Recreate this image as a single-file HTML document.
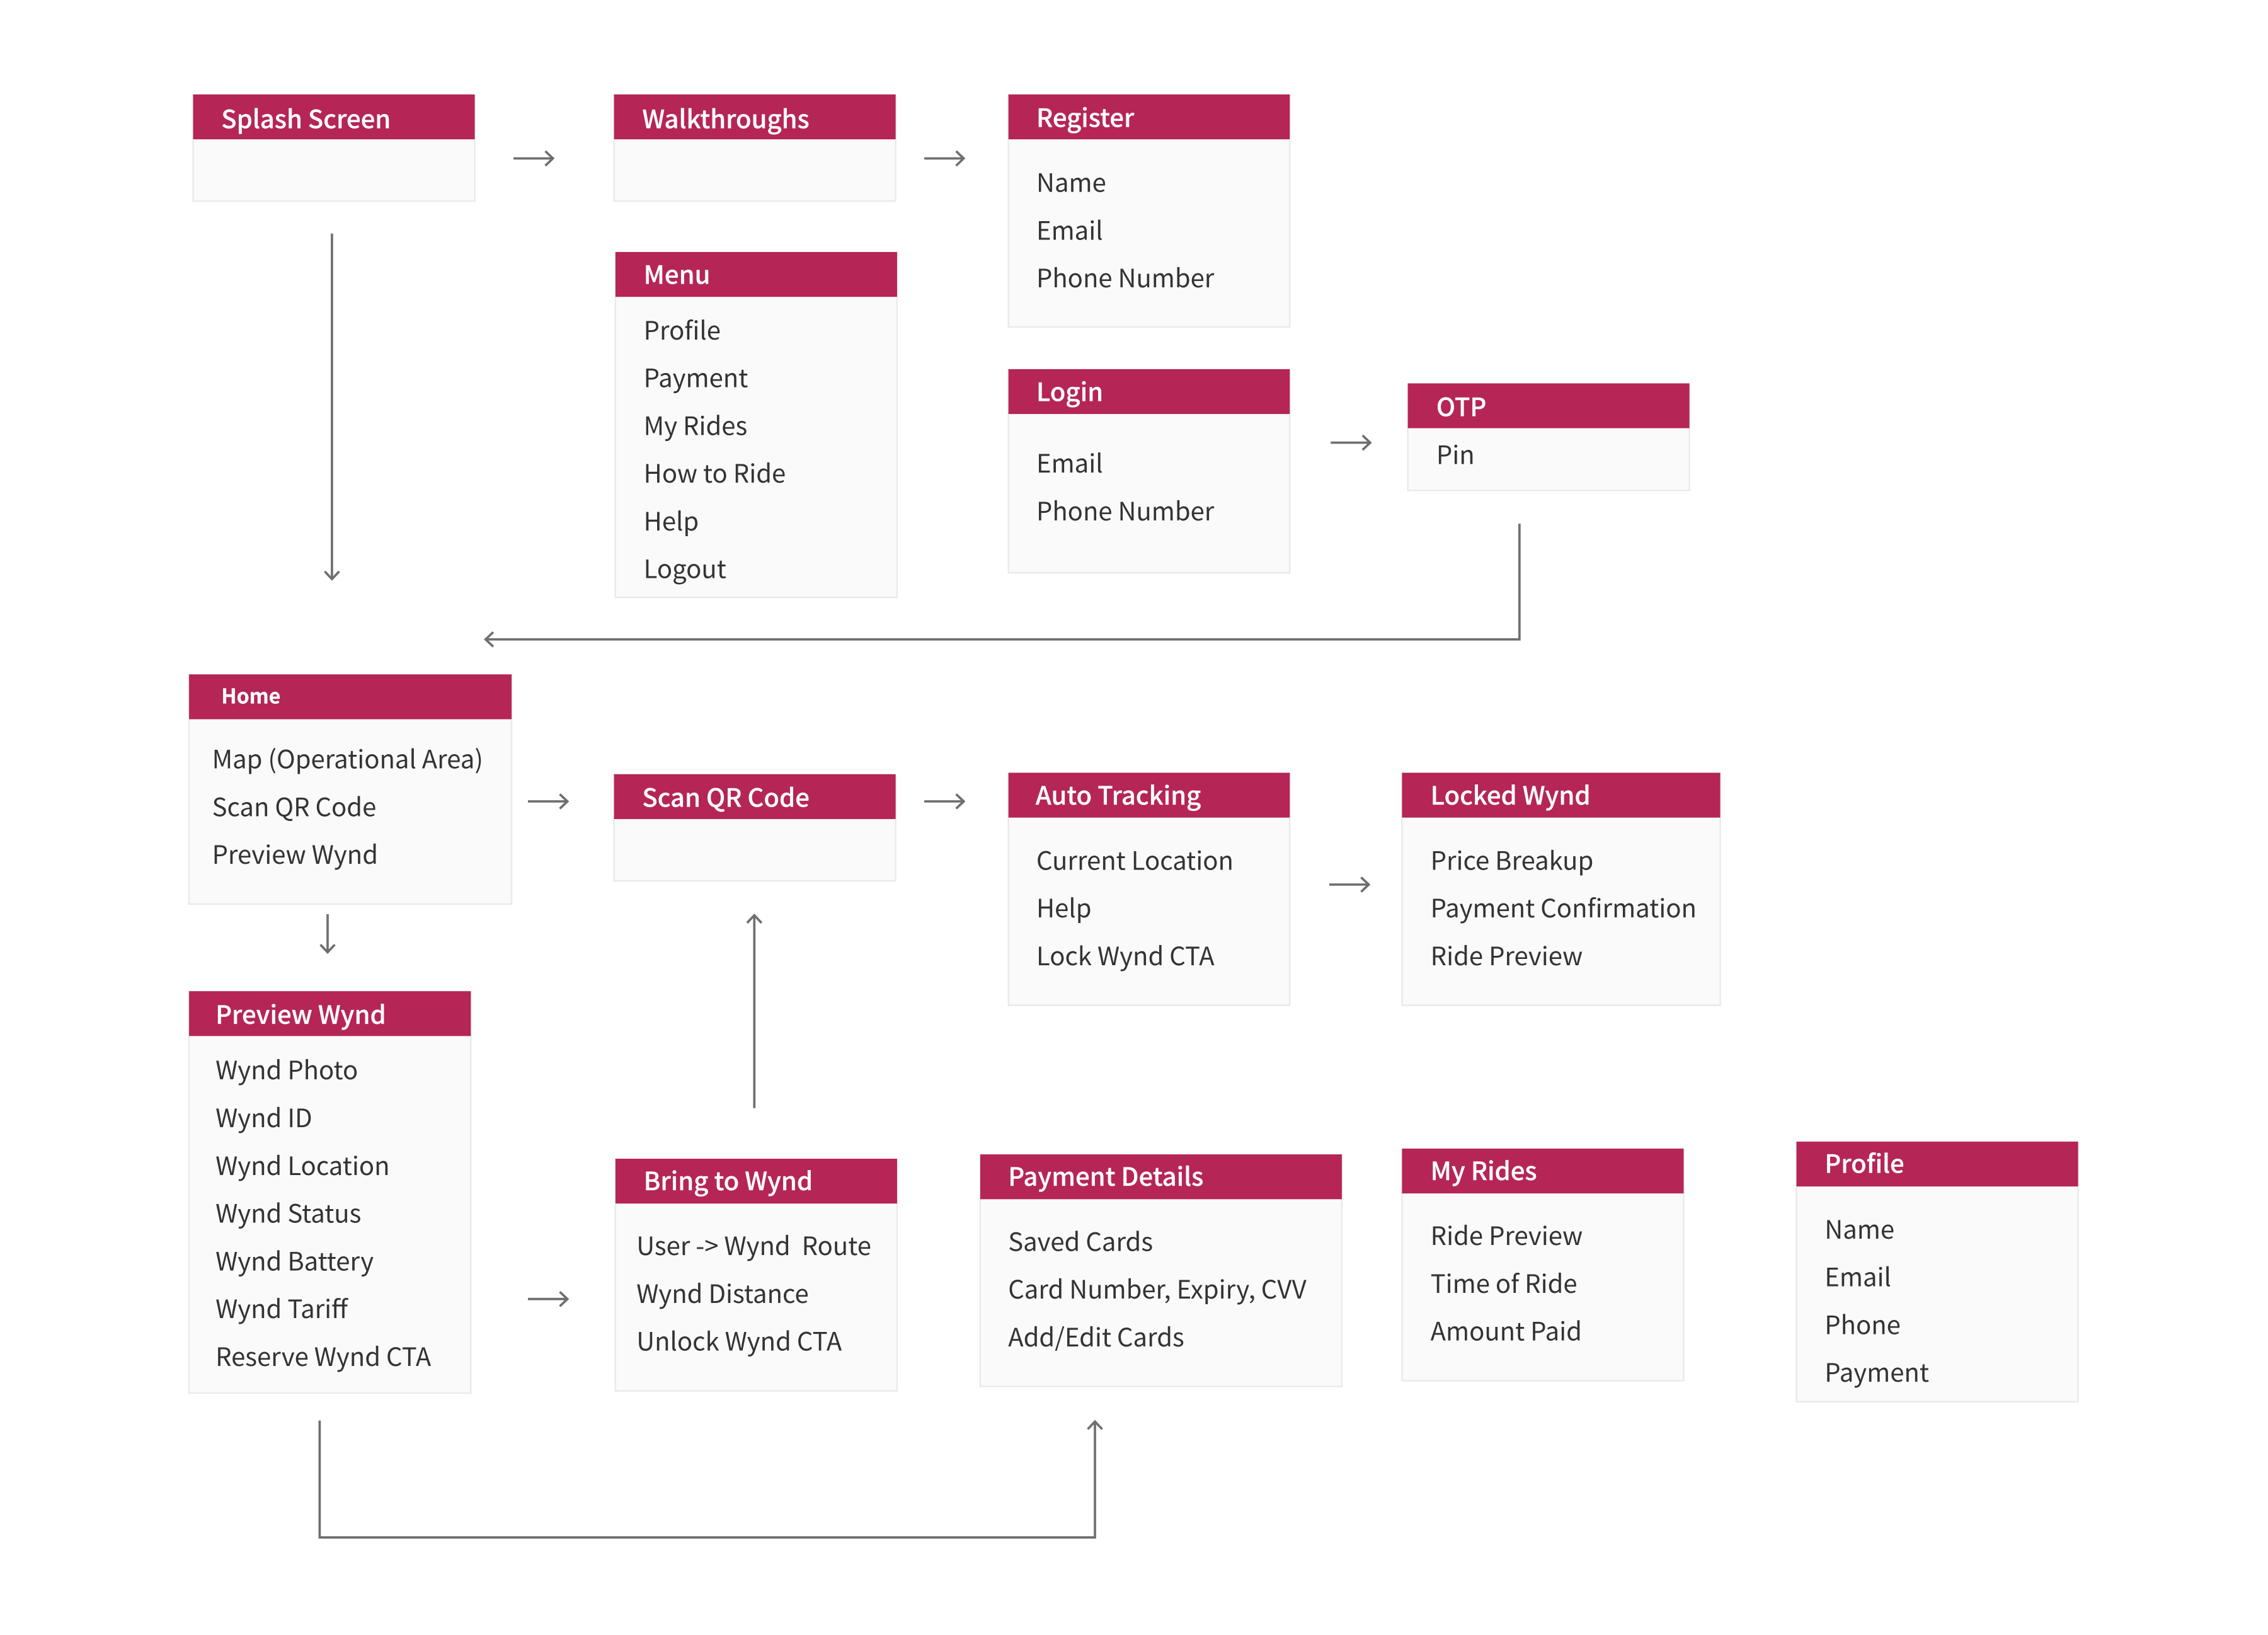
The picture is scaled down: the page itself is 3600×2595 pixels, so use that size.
<!DOCTYPE html>
<html><head><meta charset="utf-8"><style>
html,body{margin:0;padding:0;background:#fff;width:3600px;height:2595px;overflow:hidden}
svg{display:block}
text{font-family:"Noto Sans CJK JP","Liberation Sans",sans-serif;font-size:17.45px;fill:#333}
.h{fill:#fff;font-weight:500;stroke:#fff;stroke-width:.12}
.b{fill:#fafafa;stroke:#e9e9e9;stroke-width:1}
.r{fill:#b52556}
.l{fill:none;stroke:#6e6e6e;stroke-width:1.6}
</style></head><body>
<svg width="3600" height="2595" viewBox="0 0 1568 1130.25" xmlns="http://www.w3.org/2000/svg">
<rect width="1568" height="1130.25" fill="#fff"/>
<rect class="b" x="133.5" y="65.5" width="194.7" height="73.5"/><rect class="r" x="133.5" y="65.3" width="194.7" height="31"/>
<rect class="b" x="424.5" y="65.5" width="194.7" height="73.5"/><rect class="r" x="424.5" y="65.3" width="194.7" height="31"/>
<rect class="b" x="697.2" y="65.5" width="194.5" height="160.5"/><rect class="r" x="697.2" y="65.3" width="194.5" height="31"/>
<rect class="b" x="425.5" y="174.5" width="194.7" height="238.5"/><rect class="r" x="425.5" y="174.2" width="194.7" height="31"/>
<rect class="b" x="697.2" y="255.5" width="194.5" height="140.5"/><rect class="r" x="697.2" y="255.2" width="194.5" height="31"/>
<rect class="b" x="973.3" y="265.5" width="194.7" height="73.5"/><rect class="r" x="973.3" y="265" width="194.7" height="31"/>
<rect class="b" x="130.7" y="466.5" width="223" height="158.5"/><rect class="r" x="130.7" y="466.2" width="223" height="31"/>
<rect class="b" x="424.5" y="535.5" width="194.7" height="73.5"/><rect class="r" x="424.5" y="535.2" width="194.7" height="31"/>
<rect class="b" x="697.2" y="534.5" width="194.5" height="160.5"/><rect class="r" x="697.2" y="534.2" width="194.5" height="31"/>
<rect class="b" x="969.3" y="534.5" width="220" height="160.5"/><rect class="r" x="969.3" y="534.2" width="220" height="31"/>
<rect class="b" x="130.7" y="685.5" width="194.8" height="277.5"/><rect class="r" x="130.7" y="685.2" width="194.8" height="31"/>
<rect class="b" x="425.5" y="801.5" width="194.7" height="160"/><rect class="r" x="425.5" y="801" width="194.7" height="31"/>
<rect class="b" x="677.7" y="798.5" width="250" height="160"/><rect class="r" x="677.7" y="798" width="250" height="31"/>
<rect class="b" x="969.3" y="794.5" width="194.7" height="160"/><rect class="r" x="969.3" y="794" width="194.7" height="31"/>
<rect class="b" x="1242" y="789.5" width="194.7" height="179.5"/><rect class="r" x="1242" y="789.2" width="194.7" height="31"/>

<g transform="translate(0,-0.3)">
<text class="h" x="153" y="89">Splash Screen</text>
<text class="h" x="444" y="89">Walkthroughs</text>
<text class="h" x="716.5" y="88">Register</text>
<text class="h" x="445" y="196.5">Menu</text>
<text class="h" x="716.5" y="277.5">Login</text>
<text class="h" x="993" y="288">OTP</text>
<text class="h" x="153" y="486.5" style="font-size:14px;font-weight:700">Home</text>
<text class="h" x="444" y="558">Scan QR Code</text>
<text class="h" x="716" y="556.5">Auto Tracking</text>
<text class="h" x="989" y="556.5">Locked Wynd</text>
<text class="h" x="149" y="708">Preview Wynd</text>
<text class="h" x="445" y="823">Bring to Wynd</text>
<text class="h" x="697" y="820">Payment Details</text>
<text class="h" x="989" y="816">My Rides</text>
<text class="h" x="1261.5" y="811">Profile</text>

<text x="716.5" y="133">Name</text><text x="716.5" y="166">Email</text><text x="716.5" y="199">Phone Number</text>
<text x="445" y="235">Profile</text><text x="445" y="268">Payment</text><text x="445" y="301">My Rides</text><text x="445" y="334">How to Ride</text><text x="445" y="367">Help</text><text x="445" y="400">Logout</text>
<text x="716.5" y="327">Email</text><text x="716.5" y="360">Phone Number</text>
<text x="993" y="321">Pin</text>
<text x="146.6" y="531.5">Map (Operational Area)</text><text x="146.6" y="564.5">Scan QR Code</text><text x="146.6" y="597.5">Preview Wynd</text>
<text x="716.5" y="601.5">Current Location</text><text x="716.5" y="634.5">Help</text><text x="716.5" y="667.5">Lock Wynd CTA</text>
<text x="989" y="601.5">Price Breakup</text><text x="989" y="634.5">Payment Confirmation</text><text x="989" y="667.5">Ride Preview</text>
<text x="149" y="746.5">Wynd Photo</text><text x="149" y="779.5">Wynd ID</text><text x="149" y="812.5">Wynd Location</text><text x="149" y="845.5">Wynd Status</text><text x="149" y="878.5">Wynd Battery</text><text x="149" y="911.5">Wynd Tariff</text><text x="149" y="944.5">Reserve Wynd CTA</text>
<text x="440" y="868" xml:space="preserve">User -&gt; Wynd  Route</text><text x="440" y="901">Wynd Distance</text><text x="440" y="934">Unlock Wynd CTA</text>
<text x="697" y="865">Saved Cards</text><text x="697" y="898">Card Number, Expiry, CVV</text><text x="697" y="931">Add/Edit Cards</text>
<text x="989" y="861">Ride Preview</text><text x="989" y="894">Time of Ride</text><text x="989" y="927">Amount Paid</text>
<text x="1261.5" y="856.5">Name</text><text x="1261.5" y="889.5">Email</text><text x="1261.5" y="922.5">Phone</text><text x="1261.5" y="955.5">Payment</text>
</g>

<path class="l" d="M355 109.5H382.3M377 104.5L382.3 109.5L377 114.5"/>
<path class="l" d="M639 109.5H666.3M661 104.5L666.3 109.5L661 114.5"/>
<path class="l" d="M920 306H947.3M942 301L947.3 306L942 311"/>
<path class="l" d="M365 554H392.3M387 549L392.3 554L387 559"/>
<path class="l" d="M639 554H666.3M661 549L666.3 554L661 559"/>
<path class="l" d="M919 611.5H946.3M941 606.5L946.3 611.5L941 616.5"/>
<path class="l" d="M365 898H392.3M387 893L392.3 898L387 903"/>
<path class="l" d="M229.5 161.5V400.3M224.5 395L229.5 400.3L234.5 395"/>
<path class="l" d="M226.5 632V658.3M221.5 653L226.5 658.3L231.5 653"/>
<path class="l" d="M521.5 766V632.7M516.5 638L521.5 632.7L526.5 638"/>
<path class="l" d="M1050.5 362V442H335.7M341 437L335.7 442L341 447"/>
<path class="l" d="M221 982V1062.8H757V982.7M752 988L757 982.7L762 988"/>
</svg>
</body></html>
